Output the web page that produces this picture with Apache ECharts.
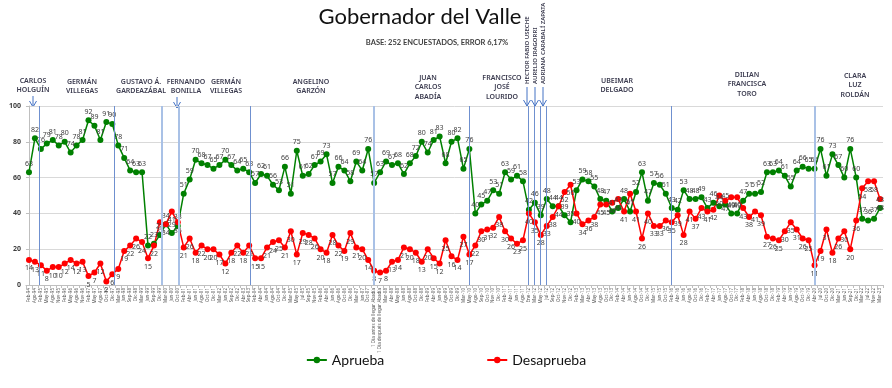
<!DOCTYPE html>
<html><head><meta charset="utf-8">
<script src="https://cdn.jsdelivr.net/npm/echarts@6/dist/echarts.min.js"></script>
<style>html,body{margin:0;padding:0;background:#fff}#c{width:892px;height:388px}</style>
</head><body><div id="c"></div>
<script>
const categories = ["Feb-94","Ago-94","Feb-95","May-95","Ago-95","Nov-95","Feb-96","May-96","Ago-96","Nov-96",
"Feb-97","May-97","Ago-97","Oct-97","Dic-97","Mar-98","Jun-98","Sep-98","Dic-98","Mar-99",
"Jun-99","Sep-99","Dic-99","Mar-00","Jun-00","Oct-00","Feb-01","Abr-01","Jun-01","Ago-01",
"Oct-01","Dic-01","Mar-02","Jun-02","Sep-02","Dic-02","Abr-03","Sep-03","Feb-04","Abr-04",
"Jun-04","Ago-04","Oct-04","Dic-04","Mar-05","May-05","Jul-05","Sep-05","Nov-05","Feb-06",
"Abr-06","Jun-06","Ago-06","Oct-06","Dic-06","Mar-07","Jun-07","Oct-07","1 Día antes de llegar Abadía","1 Día después de llegar Abadía",
"Mar-08","Abr-08","May-08","Jun-08","Ago-08","Oct-08","Dic-08","Feb-09","Abr-09","Jun-09",
"Ago-09","Oct-09","Dic-09","Mar-10","May-10","Ago-10","Sep-10","Oct-10","Nov-10","Dic-10",
"Feb-11","Abr-11","Jun-11","Ago-11","Ene-12","Mar-12","May-12","Jul-12","Sep-12","Oct-12",
"Nov-12","Dic-12","Feb-13","Mar-13","Abr-13","May-13","Ago-13","Oct-13","Dic-13","Feb-14",
"Abr-14","Jun-14","Ago-14","Oct-14","Dic-14","Mar-15","Jun-15","Oct-15","Feb-16","Abr-16",
"Jun-16","Ago-16","Oct-16","Dic-16","Feb-17","Abr-17","Jun-17","Ago-17","Oct-17","Dic-17",
"Feb-18","Abr-18","Jun-18","Ago-18","Oct-18","Dic-18","Feb-19","Abr-19","Jun-19","Ago-19",
"Oct-19","Dic-19","Abr-20","Jul-20","Oct-20","Dic-20","Mar-21","Jun-21","Sep-21","Dic-21",
"Mar-22","Jul-22","Nov-22","Mar-23"];

const aprueba = [63,82,76,79,81,78,80,74,78,81,
92,89,81,91,90,78,71,64,63,63,
22,23,28,34,29,33,51,59,70,68,
67,65,67,70,67,64,65,63,57,62,
61,56,53,66,51,75,61,62,67,69,
73,57,66,64,58,69,64,76,57,63,
69,67,68,62,68,72,80,74,81,83,
68,80,82,65,76,40,45,47,53,51,
63,59,61,58,42,46,39,48,44,44,
39,35,53,59,58,55,48,47,41,43,
48,41,52,63,47,57,56,51,43,42,
53,48,48,49,43,46,44,45,40,40,
47,51,51,52,63,63,64,61,55,64,
66,65,65,76,61,73,67,60,76,60,
37,36,37,43];

const desaprueba = [14,13,11,8,10,10,12,14,12,13,
5,7,12,2,6,9,19,22,26,24,
15,22,35,34,41,35,21,26,18,22,
20,20,17,12,18,22,18,22,15,15,
21,24,25,21,30,17,29,28,26,20,
18,28,22,19,29,21,20,14,8,7,
8,13,14,21,20,18,13,20,15,12,
25,16,14,27,17,22,30,31,32,38,
30,26,23,25,40,35,28,33,38,44,
52,56,40,34,36,38,45,45,46,48,
41,51,41,26,40,33,33,36,35,39,
28,41,37,43,41,42,50,47,49,49,
43,38,41,39,27,26,25,30,35,31,
26,25,11,19,31,18,26,30,20,36,
54,58,58,48];

const yTicks = [0,20,40,60,80,100];
// period separators (position in category index units) and whether light style
const periodLines = [1.8,14.26,22.34,25.2,37.26,57.86,74.0,83.9,84.9,85.9,87.0,107.96,132.0];
const periodLight = [false,false,true,true,false,true,false,false,false,false,false,false,true];

const chart = echarts.init(document.getElementById('c'));
const FONT = 'Noto Sans';
const lblColor = '#404040';

const markData = periodLines.map((v,i)=>({
  xAxis: v,
  lineStyle: periodLight[i] ? {color:'#a9c1e6', width:2, type:'solid'} : {color:'#6f90cf', width:1, type:'solid'}
}));

function arrow(x, y1, y2){
  return {type:'group', silent:true, children:[
    {type:'line', shape:{x1:x,y1:y1,x2:x,y2:y2}, style:{stroke:'#4472c4', lineWidth:1}},
    {type:'polyline', shape:{points:[[x-3.5,y2-6],[x,y2],[x+3.5,y2-6]]}, style:{stroke:'#4472c4', lineWidth:1, fill:null}}
  ]};
}
function ann(x, y, txt){
  return {type:'text', silent:true, x:x, y:y, style:{text:txt, fill:'#3b3b4f', font:'600 7px "'+FONT+'"', align:'center', verticalAlign:'top', lineHeight:9.5}};
}
function rot(x, y, txt){
  return {type:'text', silent:true, x:x, y:y, rotation:Math.PI/2, style:{text:txt, fill:'#3b3b4f', font:'600 6px "'+FONT+'"', align:'left', verticalAlign:'middle'}};
}

const graphics = [
  {type:'text', x:420, y:17, silent:true, style:{text:'Gobernador del Valle', fill:'#111', font:'22px Lato', align:'center', verticalAlign:'middle'}},
  {type:'text', x:437, y:43, silent:true, style:{text:'BASE: 252 ENCUESTADOS, ERROR 6,17%', fill:'#404040', font:'bold 7.5px Lato', align:'center', verticalAlign:'middle'}},
  ann(33,76,'CARLOS\nHOLGUÍN'),
  ann(82,77,'GERMÁN\nVILLEGAS'),
  ann(141,77,'GUSTAVO Á.\nGARDEAZÁBAL'),
  ann(186,77,'FERNANDO\nBONILLA'),
  ann(226,77,'GERMÁN\nVILLEGAS'),
  ann(311,77,'ANGELINO\nGARZÓN'),
  ann(428,73,'JUAN\nCARLOS\nABADÍA'),
  ann(502,73,'FRANCISCO\nJOSÉ\nLOURIDO'),
  ann(617,76,'UBEIMAR\nDELGADO'),
  ann(747,70,'DILIAN\nFRANCISCA\nTORO'),
  ann(855,71,'CLARA\nLUZ\nROLDÁN'),
  rot(527,84,'HECTOR FABIO USECHE'),
  rot(535,84,'AURELIO IRAGORRI'),
  rot(543,84,'ADRIANA CARABALÍ ZAPATA'),
  arrow(33,96,107),
  arrow(177,97,108),
  arrow(527,87,106),
  arrow(535,87,106),
  arrow(543,87,106)
];

const option = {
  backgroundColor:'#fff',
  animation:false,
  textStyle:{fontFamily:FONT},
  graphic: graphics,
  grid:{left:26, right:9, top:106, bottom:103},
  legend:{
    data:['Aprueba','Desaprueba'], bottom:16, left:'center', itemGap:102, itemWidth:20, itemHeight:8,
    textStyle:{fontSize:14, fontFamily:'Lato', color:'#111'}
  },
  xAxis:[{
    type:'category', data:categories, boundaryGap:true,
    axisLine:{lineStyle:{color:'#bfbfbf'}},
    axisTick:{show:true, interval:0, length:3, lineStyle:{color:'#bfbfbf'}},
    axisLabel:{interval:0, rotate:90, fontSize:4.5, color:'#595959', margin:3}
  },{
    type:'value', min:-0.5, max:143.5, show:false
  }],
  yAxis:[{
    type:'value', min:yTicks[0], max:yTicks[yTicks.length-1], interval:20,
    axisLine:{show:true, lineStyle:{color:'#bfbfbf'}},
    axisTick:{show:true, length:3, lineStyle:{color:'#bfbfbf'}},
    axisLabel:{fontSize:7, color:'#404040', fontWeight:'bold', margin:5},
    splitLine:{lineStyle:{color:'#d9d9d9'}}
  }],
  series:[
    {name:'sep', type:'line', xAxisIndex:1, yAxisIndex:0, data:[], silent:true,
     markLine:{symbol:['none','none'], silent:true, label:{show:false}, data:markData, animation:false}},
    {name:'Aprueba', type:'line', data:aprueba, symbol:'circle', symbolSize:6,
     itemStyle:{color:'#008000'}, lineStyle:{color:'#008000', width:1.5},
     label:{show:true, position:'top', distance:2, fontSize:7, color:lblColor}},
    {name:'Desaprueba', type:'line', data:desaprueba, symbol:'circle', symbolSize:6,
     itemStyle:{color:'#ff0000'}, lineStyle:{color:'#ff0000', width:1.5},
     label:{show:true, position:'bottom', distance:2, fontSize:7, color:lblColor}}
  ]
};
chart.setOption(option);
</script>
</body></html>
